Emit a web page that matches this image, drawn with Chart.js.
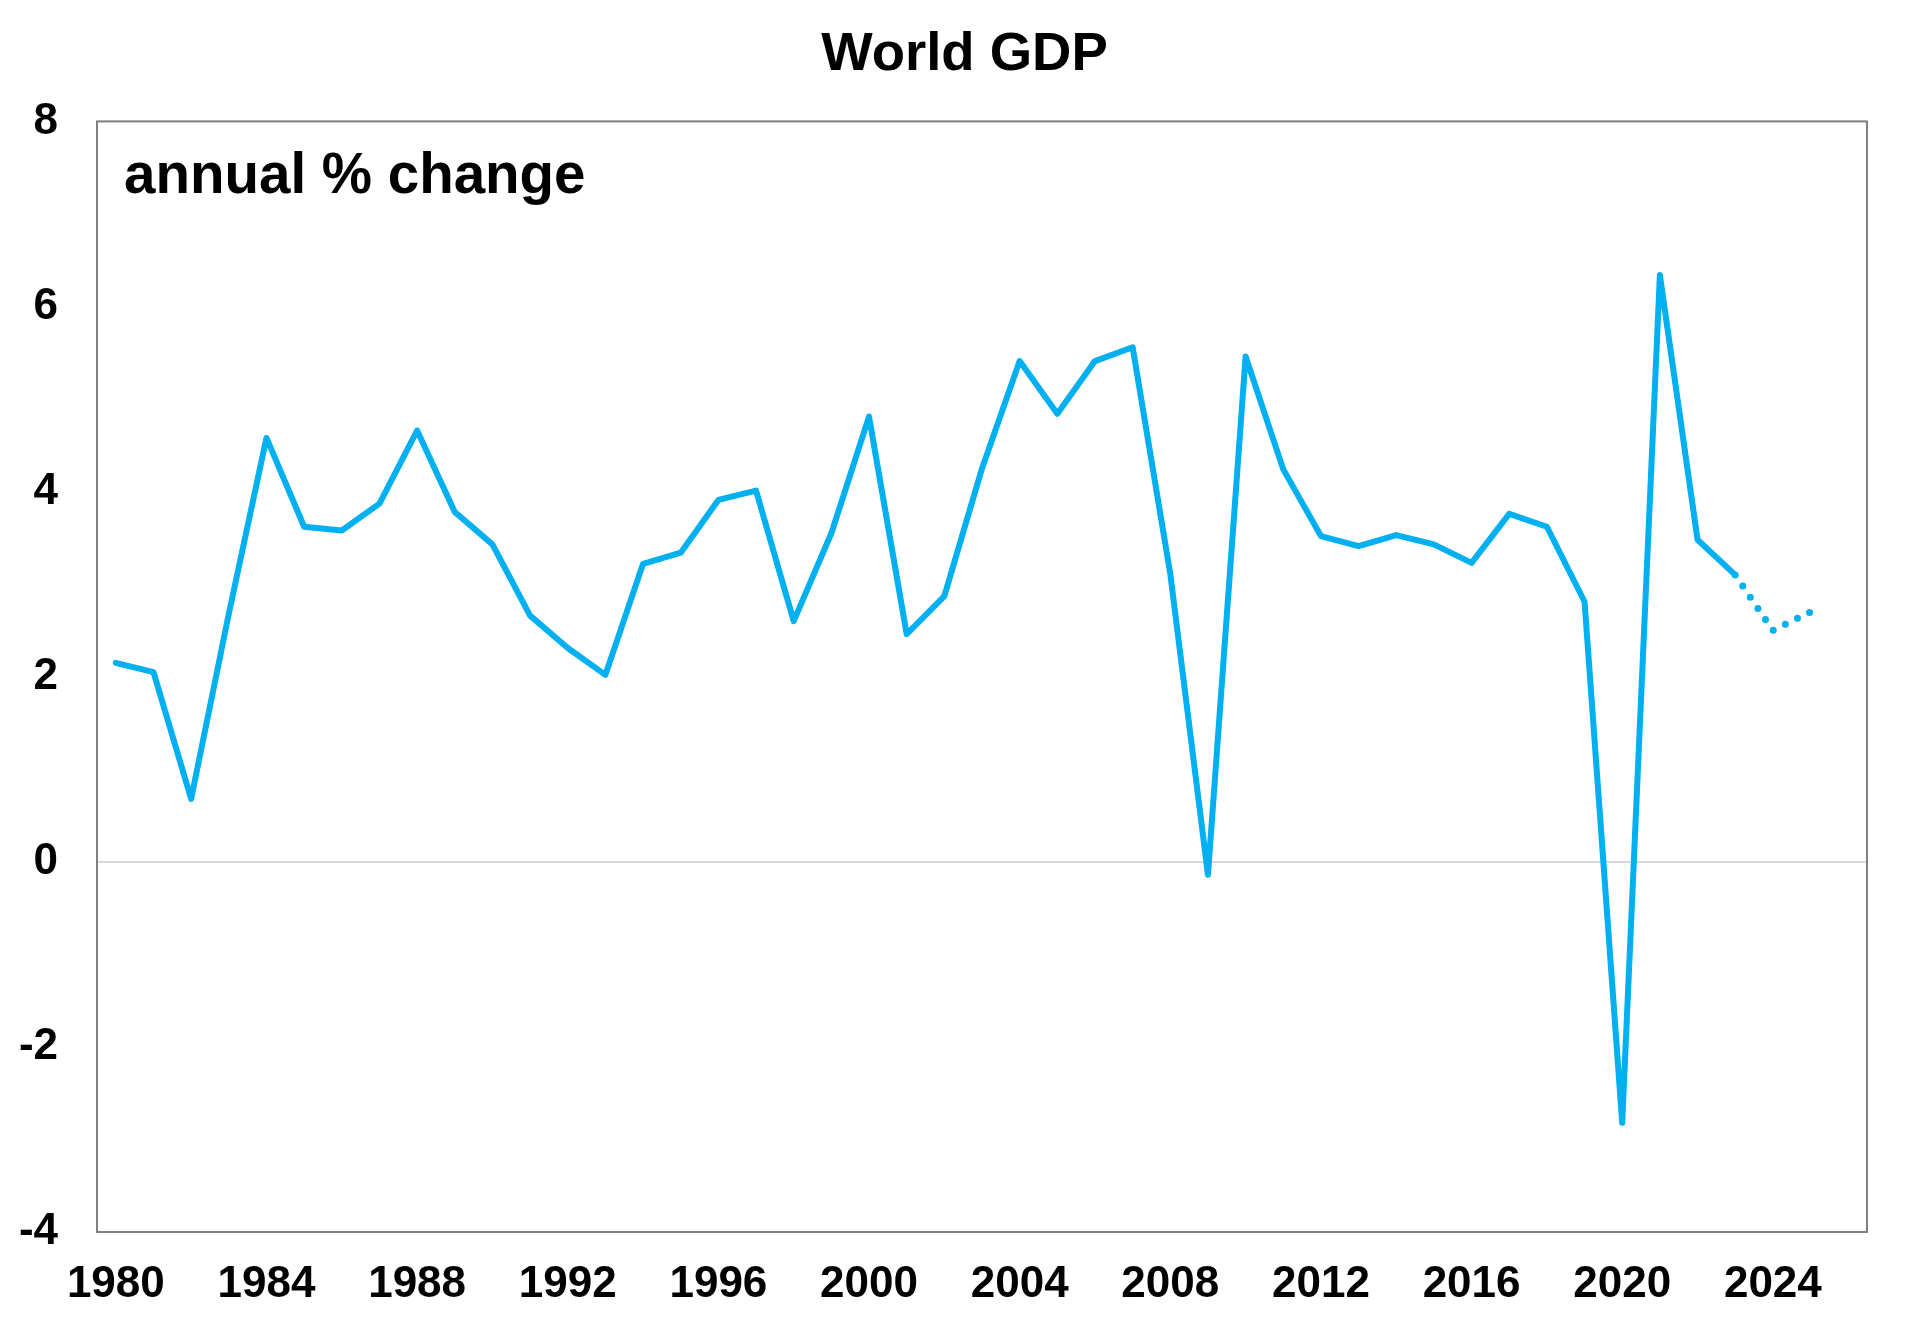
<!DOCTYPE html>
<html>
<head>
<meta charset="utf-8">
<title>World GDP</title>
<script src="https://cdn.jsdelivr.net/npm/chart.js@4.4.1/dist/chart.umd.min.js"></script>
<style>
    html, body { margin: 0; padding: 0; background: #fff; }
    #wrap { width: 1929px; height: 1325px; position: relative; }
</style>
</head>
<body>
<div id="wrap"><canvas id="gdpChart"></canvas></div>
<script>
// Categories (one extra empty year on the right, as in the original axis)
const years = ['1980', '1981', '1982', '1983', '1984', '1985', '1986', '1987', '1988', '1989',
    '1990', '1991', '1992', '1993', '1994', '1995', '1996', '1997', '1998', '1999',
    '2000', '2001', '2002', '2003', '2004', '2005', '2006', '2007', '2008', '2009',
    '2010', '2011', '2012', '2013', '2014', '2015', '2016', '2017', '2018', '2019',
    '2020', '2021', '2022', '2023', '2024', '2025', '2026'];

// World GDP, annual % change (1980 - 2025)
const gdpGrowth = [2.15, 2.05, 0.68, 2.68, 4.58, 3.62, 3.58, 3.87, 4.66, 3.78,
    3.43, 2.66, 2.31, 2.02, 3.22, 3.34, 3.91, 4.01, 2.60, 3.55,
    4.81, 2.46, 2.87, 4.25, 5.41, 4.84, 5.41, 5.56, 3.11, -0.14,
    5.46, 4.24, 3.52, 3.41, 3.53, 3.43, 3.23, 3.76, 3.62, 2.81,
    -2.82, 6.34, 3.48, 3.10, 2.50, 2.70];

// last actual year, after that the figures are forecasts (dotted)
const lastActualYear = '2023';

const yTicks = [-4, -2, 0, 2, 4, 6, 8];
const xTickEvery = 4;

const lineColor = '#00B0F0';
const fontFamily = "'Liberation Sans', Arial, sans-serif";

const lastIdx = years.indexOf(lastActualYear);
const actual = gdpGrowth.map((v, i) => (i <= lastIdx ? v : null));
const forecast = gdpGrowth.map((v, i) => (i >= lastIdx ? v : null));

// plot frame + "annual % change" label inside the plot
const framePlugin = {
    id: 'frame',
    beforeDatasetsDraw(chart) {
        const { ctx, chartArea } = chart;
        ctx.save();
        ctx.strokeStyle = '#808080';
        ctx.lineWidth = 2;
        ctx.strokeRect(chartArea.left, chartArea.top, chartArea.right - chartArea.left, chartArea.bottom - chartArea.top);
        ctx.fillStyle = '#000';
        ctx.font = 'bold 56.5px ' + fontFamily;
        ctx.textBaseline = 'alphabetic';
        ctx.textAlign = 'left';
        ctx.fillText('annual % change', chartArea.left + 27, chartArea.top + 72);
        ctx.restore();
    }
};

new Chart(document.getElementById('gdpChart').getContext('2d'), {
    type: 'line',
    data: {
        labels: years,
        datasets: [
            {
                label: 'World GDP',
                data: actual,
                borderColor: lineColor,
                borderWidth: 6,
                borderJoinStyle: 'round',
                borderCapStyle: 'round',
                pointRadius: 0,
                tension: 0,
                spanGaps: false
            },
            {
                label: 'Forecast',
                data: forecast,
                borderColor: lineColor,
                borderWidth: 7,
                borderCapStyle: 'round',
                borderDash: [0, 13.5],
                pointRadius: 0,
                tension: 0,
                spanGaps: false
            }
        ]
    },
    options: {
        responsive: true,
        maintainAspectRatio: false,
        animation: false,
        layout: { padding: 0 },
        plugins: {
            legend: { display: false },
            tooltip: { enabled: false },
            title: {
                display: true,
                text: 'World GDP',
                color: '#000',
                font: { family: fontFamily, size: 54.5, weight: 'bold', lineHeight: 1.2 },
                padding: { top: 22, bottom: 34 }
            }
        },
        scales: {
            x: {
                type: 'category',
                offset: true,
                grid: { display: false, drawTicks: false },
                border: { display: false },
                ticks: {
                    autoSkip: false,
                    maxRotation: 0,
                    padding: 26,
                    color: '#000',
                    font: { family: fontFamily, size: 44, weight: 'bold' },
                    callback: function (value, index) {
                        const y = Number(this.getLabelForValue(value));
                        return (y % xTickEvery === 0 && index < years.length - 1) ? String(y) : '';
                    }
                },
                afterFit(scale) { scale.height = 93; }
            },
            y: {
                min: yTicks[0],
                max: yTicks[yTicks.length - 1],
                afterBuildTicks(scale) { scale.ticks = yTicks.map(v => ({ value: v })); },
                grid: {
                    drawTicks: false,
                    lineWidth: 2,
                    color: ctx => (ctx.tick && ctx.tick.value === 0 ? '#D9D9D9' : 'rgba(0,0,0,0)')
                },
                border: { display: false },
                ticks: {
                    padding: 39,
                    color: '#000',
                    font: { family: fontFamily, size: 44, weight: 'bold' }
                },
                afterFit(scale) { scale.width = 97; }
            },
            // empty right-hand axis, only keeps the right margin so the title stays centred on the page
            yRight: {
                position: 'right',
                min: yTicks[0],
                max: yTicks[yTicks.length - 1],
                grid: { display: false, drawTicks: false },
                border: { display: false },
                ticks: { display: false },
                afterFit(scale) { scale.width = 62; }
            }
        }
    },
    plugins: [framePlugin]
});
</script>
</body>
</html>
